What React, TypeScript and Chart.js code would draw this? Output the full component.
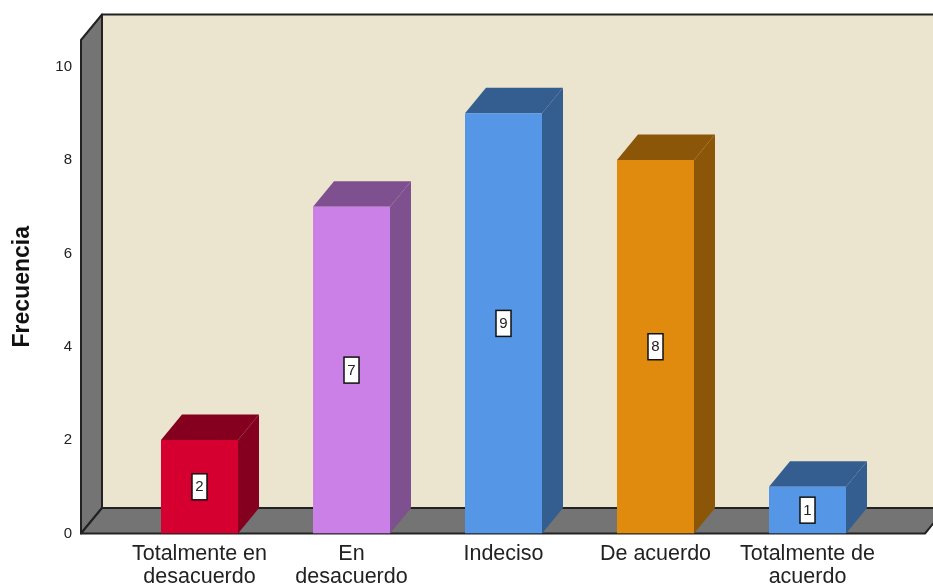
import { useEffect, useRef } from "react";
import { Chart, registerables } from "chart.js";

Chart.register(...registerables);

const categories = [
  ["Totalmente en", "desacuerdo"],
  ["En", "desacuerdo"],
  "Indeciso",
  "De acuerdo",
  ["Totalmente de", "acuerdo"],
];
const frequencies = [2, 7, 9, 8, 1];
const frontColors = ["#D5002F", "#CA80E6", "#5596E6", "#E08A0E", "#5596E6"];
const shadeColors = ["#85001F", "#7F508F", "#355E90", "#8B5608", "#355E90"];

const WALL = "#EBE5D0";
const SIDE = "#747474";
const INK = "#222222";
const DEPTH_X = 21;
const DEPTH_Y = 25.5;
const FRAME_LEFT = 81;
const FRAME_RIGHT = 925;
const FONT = "'Liberation Sans', Arial, sans-serif";

function poly(ctx: CanvasRenderingContext2D, pts: number[][], fill: string, stroke?: string) {
  ctx.beginPath();
  pts.forEach(([x, y], i) => (i ? ctx.lineTo(x, y) : ctx.moveTo(x, y)));
  ctx.closePath();
  ctx.fillStyle = fill;
  ctx.fill();
  if (stroke) {
    ctx.strokeStyle = stroke;
    ctx.lineWidth = 2;
    ctx.lineJoin = "round";
    ctx.stroke();
  }
}

// Back wall, side wall, floor and the extruded faces of each bar.
const extrusion = {
  id: "extrusion",
  beforeDatasetsDraw(chart: any) {
    const { ctx, chartArea } = chart;
    const bottom = chart.scales.y.getPixelForValue(0);
    const top = chartArea.top;
    const backLeft = FRAME_LEFT + DEPTH_X;
    const backRight = FRAME_RIGHT + DEPTH_X;
    ctx.save();
    poly(ctx, [[backLeft, top - DEPTH_Y], [backRight, top - DEPTH_Y], [backRight, bottom - DEPTH_Y], [backLeft, bottom - DEPTH_Y]], WALL, "#222222");
    poly(ctx, [[FRAME_LEFT, top], [backLeft, top - DEPTH_Y], [backLeft, bottom - DEPTH_Y], [FRAME_LEFT, bottom]], SIDE, "#222222");
    poly(ctx, [[FRAME_LEFT, bottom], [backLeft, bottom - DEPTH_Y], [backRight, bottom - DEPTH_Y], [FRAME_RIGHT, bottom]], SIDE, "#222222");
    chart.getDatasetMeta(0).data.forEach((bar: any, i: number) => {
      const half = bar.width / 2;
      const l = bar.x - half;
      const r = bar.x + half;
      poly(ctx, [[l, bar.y], [l + DEPTH_X, bar.y - DEPTH_Y], [r + DEPTH_X, bar.y - DEPTH_Y], [r, bar.y]], shadeColors[i]);
      poly(ctx, [[r, bar.y], [r + DEPTH_X, bar.y - DEPTH_Y], [r + DEPTH_X, bar.base - DEPTH_Y], [r, bar.base]], shadeColors[i]);
    });
    ctx.restore();
  },
  afterDatasetsDraw(chart: any) {
    const { ctx } = chart;
    ctx.save();
    ctx.font = `15px ${FONT}`;
    ctx.textAlign = "center";
    ctx.textBaseline = "middle";
    chart.getDatasetMeta(0).data.forEach((bar: any, i: number) => {
      const cy = (bar.y + bar.base) / 2;
      ctx.fillStyle = "#FFFFFF";
      ctx.strokeStyle = "#111111";
      ctx.lineWidth = 1.5;
      ctx.fillRect(bar.x - 7.5, cy - 13, 15, 26);
      ctx.strokeRect(bar.x - 7.5, cy - 13, 15, 26);
      ctx.fillStyle = INK;
      ctx.fillText(String(frequencies[i]), bar.x, cy + 0.5);
    });
    ctx.restore();
  },
};

export default function App() {
  const ref = useRef<HTMLCanvasElement>(null);

  useEffect(() => {
    if (!ref.current) return;
    const chart = new Chart(ref.current, {
      type: "bar",
      data: {
        labels: categories as any,
        datasets: [
          {
            data: frequencies,
            backgroundColor: frontColors,
            borderWidth: 0,
            barPercentage: 0.5066,
            categoryPercentage: 1,
          },
        ],
      },
      plugins: [extrusion],
      options: {
        animation: false,
        responsive: false,
        layout: { padding: { top: 40, right: 49.5, bottom: 0, left: 0 } },
        plugins: { legend: { display: false }, tooltip: { enabled: false } },
        scales: {
          x: {
            grid: { display: false },
            border: { display: false },
            afterFit: (s: any) => {
              s.height = 51.5;
              s.paddingLeft = 0;
              s.paddingRight = 0;
            },
            ticks: {
              color: INK,
              padding: 2,
              maxRotation: 0,
              autoSkip: false,
              font: { family: FONT, size: 21.5, lineHeight: 1.03 },
            },
          },
          y: {
            min: 0,
            max: 10.57,
            grid: { display: false },
            border: { display: false },
            afterFit: (s: any) => {
              s.width = 123.5;
              s.paddingTop = 0;
              s.paddingBottom = 0;
            },
            ticks: {
              stepSize: 2,
              includeBounds: false,
              color: INK,
              padding: 43.5,
              font: { family: FONT, size: 15 },
            },
            title: {
              display: true,
              text: "Frecuencia",
              color: "#111111",
              padding: { top: 9, bottom: 0 },
              font: { family: FONT, size: 23, weight: "bold", lineHeight: 1.2 },
            },
          },
        },
      },
    } as any);
    return () => chart.destroy();
  }, []);

  return (
    <div style={{ position: "absolute", left: 0, top: 0, width: 933, height: 585, overflow: "hidden", background: "#FFFFFF" }}>
      <canvas ref={ref} width={933} height={585} style={{ display: "block" }} />
    </div>
  );
}
